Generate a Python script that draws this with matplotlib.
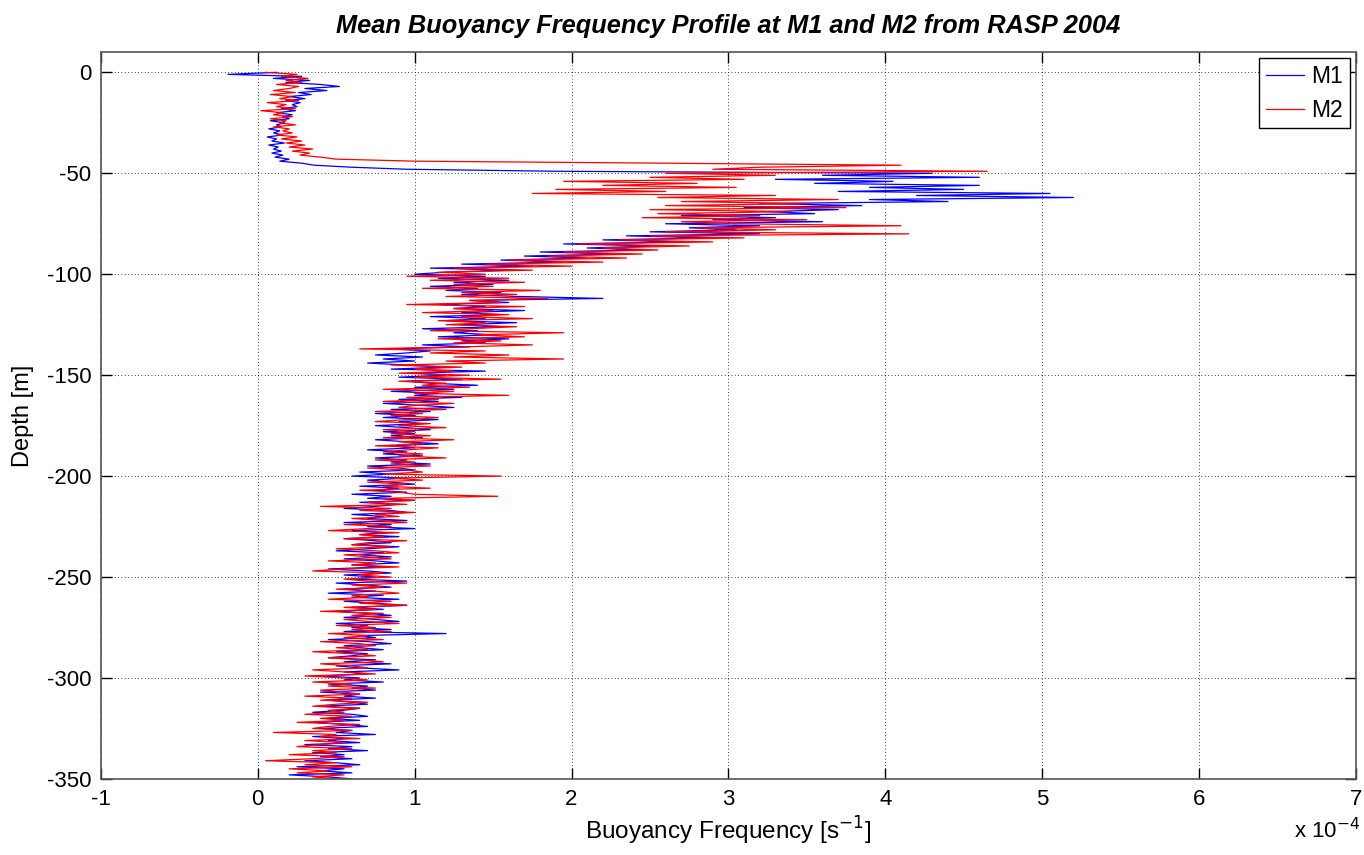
import matplotlib
matplotlib.use("Agg")
import matplotlib.pyplot as plt
import numpy as np

# depth samples, 1 m spacing from the surface down to 350 m
depth = -np.arange(0, 351)

# mean buoyancy frequency, units of 1e-4 s^-1
n_m1 = [
    0.12, -0.19, 0.28, 0.10, 0.33, 0.18, 0.40, 0.52, 0.30, 0.44,
    0.26, 0.34, 0.20, 0.30, 0.18, 0.27, 0.22, 0.25, 0.15, 0.24,
    0.12, 0.22, 0.16, 0.20, 0.08, 0.17, 0.12, 0.15, 0.07, 0.14,
    0.10, 0.16, 0.06, 0.12, 0.09, 0.17, 0.07, 0.13, 0.10, 0.15,
    0.09, 0.16, 0.11, 0.20, 0.14, 0.28, 0.36, 0.60, 0.95, 1.90,
    4.30, 3.60, 4.60, 3.30, 4.05, 3.55, 4.60, 3.90, 4.50, 3.70,
    5.05, 4.20, 5.20, 3.90, 4.40, 3.20, 3.85, 3.10, 3.70, 3.25,
    3.55, 2.70, 3.30, 2.90, 3.60, 2.60, 3.20, 2.75, 3.05, 2.50,
    3.20, 2.35, 2.90, 2.20, 2.70, 1.95, 2.55, 2.10, 2.45, 1.80,
    2.30, 1.70, 2.10, 1.55, 1.95, 1.30, 1.75, 1.10, 1.60, 1.20,
    1.00, 1.45, 1.15, 1.60, 1.25, 1.50, 1.10, 1.40, 1.20, 1.55,
    1.30, 1.65, 2.20, 1.35, 1.60, 1.15, 1.45, 1.25, 1.70, 1.30,
    1.55, 1.10, 1.45, 1.20, 1.65, 1.30, 1.55, 1.05, 1.40, 1.25,
    1.50, 1.15, 1.60, 1.30, 1.45, 1.05, 1.35, 0.85, 1.10, 0.95,
    0.75, 1.05, 0.80, 1.00, 0.70, 0.95, 1.20, 0.85, 1.45, 1.00,
    1.20, 0.90, 1.30, 0.95, 1.10, 1.40, 1.00, 1.25, 0.85, 1.15,
    1.00, 1.30, 0.90, 1.15, 0.80, 1.05, 1.25, 0.85, 1.10, 0.75,
    1.00, 0.80, 1.15, 0.90, 1.05, 0.75, 0.95, 1.10, 0.80, 1.00,
    0.85, 1.05, 0.75, 0.95, 1.15, 0.85, 1.00, 0.70, 0.95, 0.80,
    1.05, 0.75, 0.95, 0.85, 1.10, 0.70, 0.90, 1.00, 0.65, 0.85,
    0.60, 0.95, 0.70, 0.85, 1.00, 0.65, 0.90, 0.75, 0.95, 0.60,
    0.85, 0.70, 1.00, 0.65, 0.90, 0.75, 0.55, 0.85, 0.95, 0.60,
    0.80, 0.70, 0.95, 0.55, 0.85, 0.70, 1.00, 0.60, 0.80, 0.65,
    0.90, 0.55, 0.75, 0.85, 0.60, 0.90, 0.70, 0.50, 0.80, 0.65,
    0.85, 0.55, 0.75, 0.90, 0.60, 0.80, 0.45, 0.70, 0.85, 0.55,
    0.75, 0.60, 0.95, 0.50, 0.70, 0.85, 0.55, 0.75, 0.45, 0.80,
    0.60, 0.90, 0.55, 0.75, 0.95, 0.60, 0.80, 0.50, 0.70, 0.85,
    0.55, 0.75, 0.90, 0.50, 0.70, 0.60, 0.85, 0.55, 1.20, 0.65,
    0.75, 0.45, 0.70, 0.85, 0.55, 0.65, 0.80, 0.50, 0.70, 0.60,
    0.45, 0.75, 0.55, 0.85, 0.50, 0.65, 0.90, 0.55, 0.70, 0.40,
    0.65, 0.55, 0.80, 0.45, 0.70, 0.60, 0.75, 0.40, 0.65, 0.55,
    0.75, 0.45, 0.60, 0.70, 0.40, 0.65, 0.55, 0.35, 0.60, 0.70,
    0.45, 0.65, 0.35, 0.55, 0.70, 0.40, 0.60, 0.50, 0.75, 0.35,
    0.55, 0.45, 0.65, 0.30, 0.60, 0.45, 0.70, 0.35, 0.55, 0.40,
    0.60, 0.30, 0.50, 0.65, 0.25, 0.55, 0.40, 0.60, 0.20, 0.45,
    0.60,
]

n_m2 = [
    0.05, 0.25, 0.15, 0.32, 0.18, 0.28, 0.12, 0.26, 0.20, 0.10,
    0.24, 0.08, 0.22, 0.14, 0.26, 0.06, 0.18, 0.12, 0.24, 0.02,
    0.16, 0.10, 0.22, 0.08, 0.18, 0.14, 0.24, 0.10, 0.20, 0.16,
    0.22, 0.12, 0.25, 0.15, 0.28, 0.18, 0.30, 0.20, 0.35, 0.22,
    0.33, 0.27, 0.40, 0.50, 1.00, 2.60, 4.10, 3.20, 2.90, 4.65,
    2.60, 3.30, 2.50, 3.10, 1.95, 2.80, 2.20, 3.05, 1.90, 2.60,
    1.75, 3.30, 2.55, 3.70, 2.70, 3.50, 2.60, 3.75, 2.50, 3.40,
    2.55, 3.20, 2.45, 3.50, 2.70, 3.05, 4.10, 2.80, 3.30, 2.60,
    4.15, 2.50, 3.10, 2.30, 2.90, 2.05, 2.75, 2.20, 2.55, 1.95,
    2.45, 1.85, 2.35, 1.60, 2.20, 1.45, 2.00, 1.25, 1.75, 1.15,
    1.45, 0.95, 1.60, 1.10, 1.70, 1.25, 1.50, 1.05, 1.80, 1.30,
    1.65, 1.20, 1.85, 1.35, 1.55, 0.95, 1.70, 1.25, 1.50, 1.05,
    1.60, 1.30, 1.75, 1.15, 1.45, 1.20, 1.65, 1.35, 1.10, 1.95,
    1.40, 1.70, 1.15, 1.55, 1.25, 1.75, 1.30, 0.65, 1.45, 1.10,
    1.60, 1.25, 1.95, 1.20, 1.45, 0.85, 1.30, 1.00, 1.25, 0.90,
    1.35, 1.00, 1.55, 0.90, 1.20, 1.05, 1.35, 0.80, 1.25, 1.00,
    1.60, 0.95, 1.15, 0.80, 1.25, 1.00, 0.90, 1.20, 0.75, 1.05,
    0.85, 1.15, 0.95, 0.75, 1.10, 0.90, 1.20, 0.80, 1.00, 0.85,
    1.10, 0.80, 1.25, 0.90, 1.05, 0.75, 1.15, 0.95, 0.80, 1.05,
    0.90, 1.20, 0.75, 1.00, 0.85, 1.10, 0.70, 0.95, 1.05, 0.80,
    1.55, 0.85, 1.05, 0.70, 0.95, 0.80, 1.10, 0.65, 0.90, 1.00,
    1.53, 0.80, 1.00, 0.70, 0.95, 0.40, 0.85, 0.65, 1.00, 0.75,
    0.90, 0.60, 0.80, 0.95, 0.55, 0.85, 0.70, 0.45, 0.90, 0.65,
    0.80, 0.55, 0.95, 0.70, 0.60, 0.85, 0.50, 0.75, 0.90, 0.55,
    0.70, 0.85, 0.45, 0.75, 0.60, 0.90, 0.55, 0.35, 0.80, 0.65,
    0.85, 0.55, 0.70, 0.95, 0.60, 0.80, 0.50, 0.75, 0.90, 0.60,
    0.70, 0.45, 0.85, 0.65, 0.95, 0.55, 0.75, 0.40, 0.80, 0.60,
    0.85, 0.55, 0.70, 0.90, 0.50, 0.75, 0.60, 0.85, 0.45, 0.70,
    0.55, 0.80, 0.40, 0.65, 0.75, 0.50, 0.70, 0.35, 0.60, 0.75,
    0.45, 0.65, 0.80, 0.40, 0.60, 0.70, 0.35, 0.55, 0.75, 0.30,
    0.55, 0.70, 0.35, 0.60, 0.45, 0.75, 0.40, 0.55, 0.65, 0.30,
    0.60, 0.40, 0.70, 0.50, 0.35, 0.65, 0.45, 0.55, 0.30, 0.60,
    0.40, 0.55, 0.25, 0.65, 0.45, 0.35, 0.60, 0.10, 0.50, 0.40,
    0.65, 0.30, 0.55, 0.40, 0.25, 0.60, 0.35, 0.50, 0.20, 0.55,
    0.35, 0.05, 0.50, 0.30, 0.60, 0.20, 0.45, 0.25, 0.55, 0.35,
    0.50,
]

plt.rcParams['font.family'] = ['Liberation Sans', 'DejaVu Sans']
plt.rcParams['axes.unicode_minus'] = False

fig = plt.figure(figsize=(13.64, 8.55), dpi=100)
ax = fig.add_axes([0.074, 0.089, 0.920, 0.850])

ax.plot(n_m1, depth, color='#0000ff', lw=0.9, label='M1')
ax.plot(n_m2, depth, color='#ff0000', lw=0.9, label='M2')

ax.set_xlim(-1, 7)
ax.set_ylim(-350, 10)
ax.set_xticks(np.arange(-1, 8))
ax.set_yticks(np.arange(-350, 1, 50))
ax.grid(True, color='black', linestyle=(0, (1, 3)), linewidth=0.6)
ax.tick_params(direction='in', length=8, width=1, top=True, right=True,
               labelsize=16, colors='black', pad=7)
for s in ax.spines.values():
    s.set_color('#555555')
    s.set_linewidth(1.2)

ax.set_xlabel('Buoyancy Frequency [s$^{-1}$]', fontsize=17.5, labelpad=4)
ax.set_ylabel('Depth [m]', fontsize=17, labelpad=9)
ax.set_title('Mean Buoyancy Frequency Profile at M1 and M2 from RASP 2004',
             fontsize=18.3, fontweight='bold', fontstyle='italic', pad=14)
fig.text(0.997, 0.020, 'x 10$^{-4}$', fontsize=16, ha='right', va='baseline')

leg = ax.legend(loc='upper right', fontsize=16.5, fancybox=False,
                edgecolor='black', framealpha=1, borderaxespad=0.27,
                handlelength=1.65, handletextpad=0.3, labelspacing=0.45,
                borderpad=0.3)
leg.get_frame().set_linewidth(1.0)

fig.savefig('out.png', dpi=100)
